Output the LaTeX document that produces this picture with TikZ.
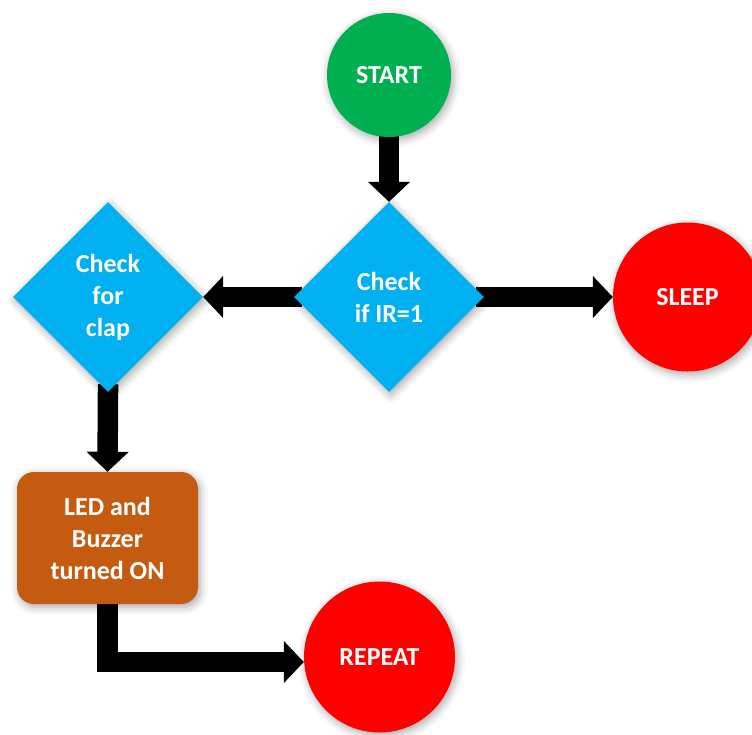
\documentclass[tikz,border=0pt]{standalone}
\usepackage{fontspec}
\setmainfont{Carlito}
\usetikzlibrary{shapes.geometric,arrows.meta,shadows.blur}
\definecolor{cgreen}{HTML}{00B050}
\definecolor{cblue}{HTML}{00B0F0}
\definecolor{cred}{HTML}{FF0000}
\definecolor{cbrown}{HTML}{C55A11}
\pgfdeclarelayer{bg}
\pgfsetlayers{bg,main}
\tikzset{
  base/.style={inner sep=0pt, text=white, align=center,
    font=\fontsize{26}{32}\selectfont\bfseries,
    blur shadow={shadow blur radius=8pt, shadow xshift=2pt, shadow yshift=-3pt, shadow opacity=35}},
  roundnode/.style={base, circle, fill=#1},
  decision/.style={base, diamond, aspect=1, fill=cblue, minimum width=190pt, minimum height=190pt},
  process/.style={base, rectangle, rounded corners=17pt, fill=cbrown, minimum width=181pt, minimum height=132pt},
  flow/.style={line width=20.5pt, line cap=butt, line join=miter, black,
    -{Triangle[width=41pt,length=20pt]}}
}
\begin{document}
\begin{tikzpicture}[x=1pt,y=-1pt]
\useasboundingbox (0,0) rectangle (752,734);
\node[roundnode=cgreen, minimum size=124pt] (start) at (389,75) {START};
\node[decision] (ir) at (389,297) {Check\\if IR=1};
\node[decision] (clap) at (108,297) {Check\\for\\clap};
\node[roundnode=cred, minimum size=149pt] (sleep) at (687.5,297) {SLEEP};
\node[process] (led) at (107.5,538) {LED and\\Buzzer\\turned ON};
\node[roundnode=cred, minimum size=151pt] (repeat) at (379.5,657) {REPEAT};
\begin{pgfonlayer}{bg}
\draw[flow, shorten <=-4pt] (start.south) -- (ir.north);
\draw[flow, shorten <=-8pt] (ir.west) -- (clap.east);
\draw[flow, shorten <=-8pt] (ir.east) -- (sleep.west);
\draw[flow, shorten <=-8pt] (clap.south) -- (led.north);
\draw[flow, shorten <=-4pt] (led.south) |- ([yshift=-5pt]repeat.west);
\end{pgfonlayer}
\end{tikzpicture}
\end{document}
